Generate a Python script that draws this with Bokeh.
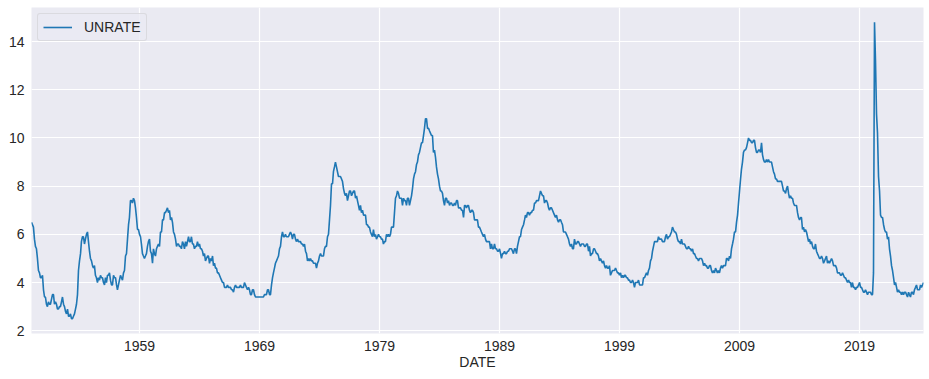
import pandas as pd
from bokeh.plotting import figure
from bokeh.models import Range1d, FixedTicker, DatetimeTickFormatter, ColumnDataSource
from bokeh.embed import file_html
from bokeh.resources import INLINE

# Monthly civilian unemployment rate (UNRATE), Jan 1950 - May 2024
u1950s = [
    6.5, 6.4, 6.3, 5.8, 5.5, 5.4, 5.0, 4.5, 4.4, 4.2, 4.2, 4.3,
    3.7, 3.4, 3.4, 3.1, 3.0, 3.2, 3.1, 3.1, 3.3, 3.5, 3.5, 3.1,
    3.2, 3.1, 2.9, 2.9, 3.0, 3.0, 3.2, 3.4, 3.1, 3.0, 2.8, 2.7,
    2.9, 2.6, 2.6, 2.7, 2.5, 2.5, 2.6, 2.7, 2.9, 3.1, 3.5, 4.5,
    4.9, 5.2, 5.7, 5.9, 5.9, 5.6, 5.8, 6.0, 6.1, 5.7, 5.3, 5.0,
    4.9, 4.7, 4.6, 4.7, 4.3, 4.2, 4.0, 4.2, 4.1, 4.3, 4.2, 4.2,
    4.0, 3.9, 4.2, 4.0, 4.3, 4.3, 4.4, 4.1, 3.9, 3.9, 4.3, 4.2,
    4.2, 3.9, 3.7, 3.9, 4.1, 4.3, 4.2, 4.1, 4.4, 4.5, 5.1, 5.2,
    5.8, 6.4, 6.7, 7.4, 7.4, 7.3, 7.5, 7.4, 7.1, 6.7, 6.2, 6.2,
    6.0, 5.9, 5.6, 5.2, 5.1, 5.0, 5.1, 5.2, 5.5, 5.7, 5.8, 5.3,
]
u1960s = [
    5.2, 4.8, 5.4, 5.2, 5.1, 5.4, 5.5, 5.6, 5.5, 6.1, 6.1, 6.6,
    6.6, 6.9, 6.9, 7.0, 7.1, 6.9, 7.0, 6.6, 6.7, 6.5, 6.1, 6.0,
    5.8, 5.5, 5.6, 5.6, 5.5, 5.5, 5.4, 5.7, 5.6, 5.4, 5.7, 5.5,
    5.7, 5.9, 5.7, 5.7, 5.9, 5.6, 5.6, 5.4, 5.5, 5.5, 5.7, 5.5,
    5.6, 5.4, 5.4, 5.3, 5.1, 5.2, 4.9, 5.0, 5.1, 5.1, 4.8, 5.0,
    4.9, 5.1, 4.7, 4.8, 4.6, 4.6, 4.4, 4.4, 4.3, 4.2, 4.1, 4.0,
    4.0, 3.8, 3.8, 3.8, 3.9, 3.8, 3.8, 3.8, 3.7, 3.7, 3.6, 3.8,
    3.9, 3.8, 3.8, 3.8, 3.8, 3.9, 3.8, 3.8, 3.8, 4.0, 3.9, 3.8,
    3.7, 3.8, 3.7, 3.5, 3.5, 3.7, 3.7, 3.5, 3.4, 3.4, 3.4, 3.4,
    3.4, 3.4, 3.4, 3.4, 3.4, 3.5, 3.5, 3.5, 3.7, 3.7, 3.5, 3.5,
]
u1970s = [
    3.9, 4.2, 4.4, 4.6, 4.8, 4.9, 5.0, 5.1, 5.4, 5.5, 5.9, 6.1,
    5.9, 5.9, 6.0, 5.9, 5.9, 5.9, 6.0, 6.1, 6.0, 5.8, 6.0, 6.0,
    5.8, 5.7, 5.8, 5.7, 5.7, 5.7, 5.6, 5.6, 5.5, 5.6, 5.3, 5.2,
    4.9, 5.0, 4.9, 5.0, 4.9, 4.9, 4.8, 4.8, 4.8, 4.6, 4.8, 4.9,
    5.1, 5.2, 5.1, 5.1, 5.1, 5.4, 5.5, 5.5, 5.9, 6.0, 6.6, 7.2,
    8.1, 8.1, 8.6, 8.8, 9.0, 8.8, 8.6, 8.4, 8.4, 8.4, 8.3, 8.2,
    7.9, 7.7, 7.6, 7.7, 7.4, 7.6, 7.8, 7.8, 7.6, 7.7, 7.8, 7.8,
    7.5, 7.6, 7.4, 7.2, 7.0, 7.2, 6.9, 7.0, 6.8, 6.8, 6.8, 6.4,
    6.4, 6.3, 6.3, 6.1, 6.0, 5.9, 6.2, 5.9, 6.0, 5.8, 5.9, 6.0,
    5.9, 5.9, 5.8, 5.8, 5.6, 5.7, 5.7, 6.0, 5.9, 6.0, 5.9, 6.0,
]
u1980s = [
    6.3, 6.3, 6.3, 6.9, 7.5, 7.6, 7.8, 7.7, 7.5, 7.5, 7.5, 7.2,
    7.5, 7.4, 7.4, 7.2, 7.5, 7.5, 7.2, 7.4, 7.6, 7.9, 8.3, 8.5,
    8.6, 8.9, 9.0, 9.3, 9.4, 9.6, 9.8, 9.8, 10.1, 10.4, 10.8, 10.8,
    10.4, 10.4, 10.3, 10.2, 10.1, 10.1, 9.4, 9.5, 9.2, 8.8, 8.5, 8.3,
    8.0, 7.8, 7.8, 7.7, 7.4, 7.2, 7.5, 7.5, 7.3, 7.4, 7.2, 7.3,
    7.3, 7.2, 7.2, 7.3, 7.2, 7.4, 7.4, 7.1, 7.1, 7.1, 7.0, 7.0,
    6.7, 7.2, 7.2, 7.1, 7.2, 7.2, 7.0, 6.9, 7.0, 7.0, 6.9, 6.6,
    6.6, 6.6, 6.6, 6.3, 6.3, 6.2, 6.1, 6.0, 5.9, 6.0, 5.8, 5.7,
    5.7, 5.7, 5.7, 5.4, 5.6, 5.4, 5.4, 5.6, 5.4, 5.4, 5.3, 5.3,
    5.4, 5.2, 5.0, 5.2, 5.2, 5.3, 5.2, 5.2, 5.3, 5.3, 5.4, 5.4,
]
u1990s = [
    5.4, 5.3, 5.2, 5.4, 5.4, 5.2, 5.5, 5.7, 5.9, 5.9, 6.2, 6.3,
    6.4, 6.6, 6.8, 6.7, 6.9, 6.9, 6.8, 6.9, 6.9, 7.0, 7.0, 7.3,
    7.3, 7.4, 7.4, 7.4, 7.6, 7.8, 7.7, 7.6, 7.6, 7.3, 7.4, 7.4,
    7.3, 7.1, 7.0, 7.1, 7.1, 7.0, 6.9, 6.8, 6.7, 6.8, 6.6, 6.5,
    6.6, 6.6, 6.5, 6.4, 6.1, 6.1, 6.1, 6.0, 5.9, 5.8, 5.6, 5.5,
    5.6, 5.4, 5.4, 5.8, 5.6, 5.6, 5.7, 5.7, 5.6, 5.5, 5.6, 5.6,
    5.6, 5.5, 5.5, 5.6, 5.6, 5.3, 5.5, 5.1, 5.2, 5.2, 5.4, 5.4,
    5.3, 5.2, 5.2, 5.1, 4.9, 5.0, 4.9, 4.8, 4.9, 4.7, 4.6, 4.7,
    4.6, 4.6, 4.7, 4.3, 4.4, 4.5, 4.5, 4.5, 4.6, 4.5, 4.4, 4.4,
    4.3, 4.4, 4.2, 4.3, 4.2, 4.3, 4.3, 4.2, 4.2, 4.1, 4.1, 4.0,
]
u2000s = [
    4.0, 4.1, 4.0, 3.8, 4.0, 4.0, 4.0, 4.1, 3.9, 3.9, 3.9, 3.9,
    4.2, 4.2, 4.3, 4.4, 4.3, 4.5, 4.6, 4.9, 5.0, 5.3, 5.5, 5.7,
    5.7, 5.7, 5.7, 5.9, 5.8, 5.8, 5.8, 5.7, 5.7, 5.7, 5.9, 6.0,
    5.8, 5.9, 5.9, 6.0, 6.1, 6.3, 6.2, 6.1, 6.1, 6.0, 5.8, 5.7,
    5.7, 5.6, 5.8, 5.6, 5.6, 5.6, 5.5, 5.4, 5.4, 5.5, 5.4, 5.4,
    5.3, 5.4, 5.2, 5.2, 5.1, 5.0, 5.0, 4.9, 5.0, 5.0, 5.0, 4.9,
    4.7, 4.8, 4.7, 4.7, 4.6, 4.6, 4.7, 4.7, 4.5, 4.4, 4.5, 4.4,
    4.6, 4.5, 4.4, 4.5, 4.4, 4.6, 4.7, 4.6, 4.7, 4.7, 4.7, 5.0,
    5.0, 4.9, 5.1, 5.0, 5.4, 5.6, 5.8, 6.1, 6.1, 6.5, 6.8, 7.3,
    7.8, 8.3, 8.7, 9.0, 9.4, 9.5, 9.5, 9.6, 9.8, 10.0, 9.9, 9.9,
]
u2010s = [
    9.8, 9.8, 9.9, 9.9, 9.6, 9.4, 9.4, 9.5, 9.5, 9.4, 9.8, 9.3,
    9.1, 9.0, 9.0, 9.1, 9.0, 9.1, 9.0, 9.0, 9.0, 8.8, 8.6, 8.5,
    8.3, 8.3, 8.2, 8.2, 8.2, 8.2, 8.2, 8.0, 7.8, 7.8, 7.7, 7.9,
    8.0, 7.7, 7.5, 7.6, 7.5, 7.5, 7.3, 7.2, 7.2, 7.2, 6.9, 6.7,
    6.6, 6.7, 6.7, 6.2, 6.3, 6.1, 6.2, 6.1, 5.9, 5.7, 5.8, 5.6,
    5.7, 5.5, 5.4, 5.4, 5.6, 5.3, 5.2, 5.1, 5.0, 5.0, 5.1, 5.0,
    4.8, 4.9, 5.0, 5.1, 4.8, 4.9, 4.8, 4.9, 5.0, 4.9, 4.7, 4.7,
    4.7, 4.6, 4.4, 4.4, 4.4, 4.3, 4.3, 4.4, 4.3, 4.2, 4.2, 4.1,
    4.0, 4.1, 4.0, 4.0, 3.8, 4.0, 3.8, 3.8, 3.7, 3.8, 3.8, 3.9,
    4.0, 3.8, 3.8, 3.7, 3.6, 3.6, 3.7, 3.6, 3.5, 3.6, 3.6, 3.6,
]
u2020s = [
    3.5, 3.5, 4.4, 14.8, 13.2, 11.0, 10.2, 8.4, 7.8, 6.8, 6.7, 6.7,
    6.4, 6.2, 6.1, 6.1, 5.8, 5.9, 5.4, 5.1, 4.7, 4.5, 4.2, 3.9,
    4.0, 3.8, 3.6, 3.7, 3.6, 3.6, 3.5, 3.6, 3.5, 3.6, 3.6, 3.5,
    3.4, 3.6, 3.5, 3.4, 3.6, 3.6, 3.5, 3.7, 3.8, 3.9, 3.7, 3.7,
    3.7, 3.9, 3.8, 3.9, 4.0,
]
tick_years = [1959, 1969, 1979, 1989, 1999, 2009, 2019]
y_ticks = [2, 4, 6, 8, 10, 12, 14]

values = u1950s + u1960s + u1970s + u1980s + u1990s + u2000s + u2010s + u2020s
dates = pd.date_range("1950-01-01", periods=len(values), freq="MS")
src = ColumnDataSource(dict(DATE=dates, UNRATE=values))

vmin, vmax = min(values), max(values)
pad = (vmax - vmin) * 0.05

FONT = "Liberation Sans"
TXT = "#262626"

p = figure(width=929, height=379, x_axis_type="datetime",
           output_backend="svg", toolbar_location=None,
           x_range=Range1d(dates[0], dates[-1]),
           y_range=Range1d(vmin - pad, vmax + pad),
           background_fill_color="#EAEAF2", border_fill_color="white",
           min_border_left=31, min_border_right=6, min_border_top=7,
           min_border_bottom=46)
p.outline_line_color = None

p.line("DATE", "UNRATE", source=src, line_color="#1f77b4", line_width=1.6,
       legend_label="UNRATE")

ticks_ms = [pd.Timestamp(f"{y}-01-01").value // 10**6 for y in tick_years]
p.xaxis.ticker = FixedTicker(ticks=ticks_ms)
p.xaxis.formatter = DatetimeTickFormatter(
    years="%Y", months="%Y", days="%Y", hours="%Y", minutes="%Y",
    seconds="%Y", milliseconds="%Y", microseconds="%Y", context=None)
p.yaxis.ticker = FixedTicker(ticks=y_ticks)

for ax in (p.xaxis[0], p.yaxis[0]):
    ax.axis_line_color = None
    ax.major_tick_line_color = None
    ax.minor_tick_line_color = None
    ax.major_tick_out = 0
    ax.major_tick_in = 0
    ax.minor_tick_out = 0
    ax.major_label_text_font = FONT
    ax.major_label_text_font_size = "14px"
    ax.major_label_text_color = TXT

p.xaxis.major_label_standoff = 7
p.yaxis.major_label_standoff = 7
p.xaxis.axis_label = "DATE"
p.xaxis.axis_label_text_font = FONT
p.xaxis.axis_label_text_font_size = "14px"
p.xaxis.axis_label_text_font_style = "normal"
p.xaxis.axis_label_text_color = TXT
p.xaxis.axis_label_standoff = 0

p.grid.grid_line_color = "white"
p.grid.grid_line_width = 1.2

lg = p.legend[0]
lg.location = "top_left"
lg.margin = 6
lg.padding = 5
lg.spacing = 0
lg.glyph_width = 29
lg.glyph_height = 16
lg.label_height = 16
lg.label_standoff = 12
lg.label_text_font = FONT
lg.label_text_font_size = "14px"
lg.label_text_color = TXT
lg.background_fill_color = "#EAEAF2"
lg.background_fill_alpha = 0.8
lg.border_line_color = "#cccccc"
lg.border_line_width = 1
lg.border_radius = 3

open("out.html", "w").write(file_html(p, INLINE))
